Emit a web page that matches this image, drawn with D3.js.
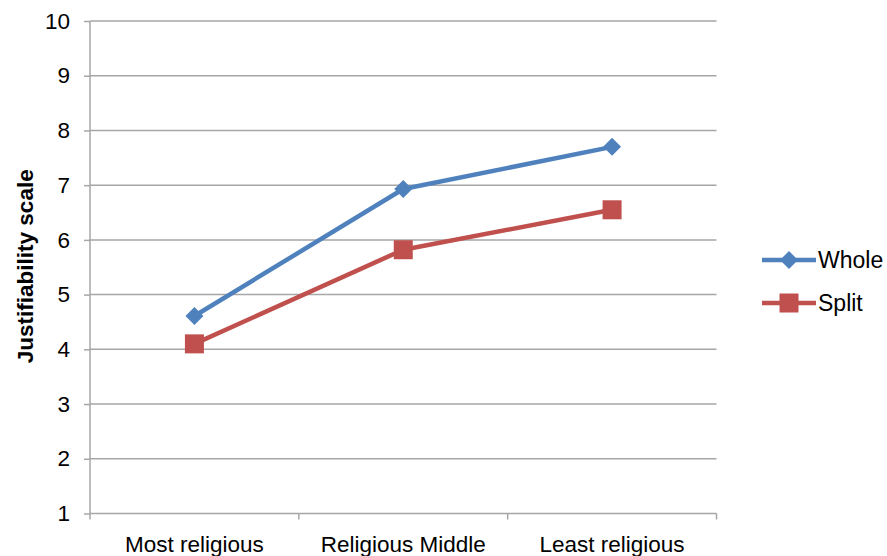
<!DOCTYPE html>
<html>
<head>
<meta charset="utf-8">
<script src="https://cdn.jsdelivr.net/npm/d3@7"></script>
<style>
  body { margin: 0; background: #fff; }
  svg { display: block; font-family: "Liberation Sans", Arial, sans-serif; }
</style>
</head>
<body>
<svg id="chart" width="887" height="556"></svg>
<script>
// Religiosity groups along the x axis
const categories = ["Most religious", "Religious Middle", "Least religious"];
// Mean justifiability score per group
const wholeValues = [4.61, 6.93, 7.70];
const splitValues = [4.10, 5.82, 6.55];
const seriesNames = ["Whole", "Split"];
const yTicks = [1, 2, 3, 4, 5, 6, 7, 8, 9, 10];

const series = [
  { name: seriesNames[0], values: wholeValues, color: "#4F81BD", marker: "diamond" },
  { name: seriesNames[1], values: splitValues, color: "#C0504D", marker: "square" }
];

const svg = d3.select("#chart");
const plot = { left: 90, right: 716.5, top: 21, bottom: 513.5 };
const fontSize = 22.5;

const x = d3.scaleBand().domain(categories).range([plot.left, plot.right]);
const y = d3.scaleLinear().domain([1, 10]).range([plot.bottom, plot.top]);
const gridColor = "#A6A6A6";

// Horizontal gridlines
svg.append("g")
  .selectAll("line")
  .data(yTicks.slice(1))
  .join("line")
  .attr("x1", plot.left).attr("x2", plot.right)
  .attr("y1", d => y(d)).attr("y2", d => y(d))
  .attr("stroke", gridColor).attr("stroke-width", 1.5);

// Y axis
const yAxis = svg.append("g")
  .attr("transform", `translate(${plot.left},0)`)
  .call(d3.axisLeft(y).tickValues(yTicks).tickSize(6).tickPadding(14).tickFormat(d3.format("d")));
yAxis.select(".domain").attr("stroke", gridColor).attr("stroke-width", 1.5)
  .attr("d", `M0,${plot.bottom}V${plot.top}`);
yAxis.selectAll(".tick line").attr("stroke", gridColor).attr("stroke-width", 1.5);
yAxis.selectAll(".tick text").attr("font-size", fontSize).attr("fill", "#000")
  .attr("font-family", "Liberation Sans, Arial, sans-serif");

// X axis with boundary ticks between categories
const xAxis = svg.append("g").attr("transform", `translate(0,${plot.bottom})`);
xAxis.append("line").attr("x1", plot.left).attr("x2", plot.right)
  .attr("stroke", gridColor).attr("stroke-width", 1.5);
const bounds = categories.map(c => x(c)).concat([plot.right]);
xAxis.selectAll("line.tk").data(bounds).join("line").attr("class", "tk")
  .attr("x1", d => d).attr("x2", d => d).attr("y1", 0).attr("y2", 6)
  .attr("stroke", gridColor).attr("stroke-width", 1.5);
xAxis.selectAll("text").data(categories).join("text")
  .attr("x", d => x(d) + x.bandwidth() / 2).attr("y", 38)
  .attr("text-anchor", "middle").attr("font-size", fontSize).attr("fill", "#000")
  .text(d => d);

// Y axis title
svg.append("text")
  .attr("transform", `translate(33,${(plot.top + plot.bottom) / 2 - 1}) rotate(-90)`)
  .attr("text-anchor", "middle").attr("font-size", fontSize).attr("font-weight", "bold")
  .text("Justifiability scale");

const line = d3.line().x((d, i) => x(categories[i]) + x.bandwidth() / 2).y(d => y(d));

function drawMarker(g, type, cx, cy, color) {
  if (type === "diamond") {
    const r = 9;
    g.append("path").attr("d", `M${cx},${cy - r}L${cx + r},${cy}L${cx},${cy + r}L${cx - r},${cy}Z`)
      .attr("fill", color);
  } else {
    const s = 19;
    g.append("rect").attr("x", cx - s / 2).attr("y", cy - s / 2).attr("width", s).attr("height", s)
      .attr("fill", color);
  }
}

series.forEach(s => {
  const g = svg.append("g");
  g.append("path").datum(s.values).attr("d", line)
    .attr("fill", "none").attr("stroke", s.color).attr("stroke-width", 4.5)
    .attr("stroke-linejoin", "round");
  s.values.forEach((v, i) => drawMarker(g, s.marker, x(categories[i]) + x.bandwidth() / 2, y(v), s.color));
});

// Legend
const legend = svg.append("g");
series.forEach((s, i) => {
  const ly = 260 + i * 43;
  legend.append("line").attr("x1", 762).attr("x2", 816).attr("y1", ly).attr("y2", ly)
    .attr("stroke", s.color).attr("stroke-width", 4.5);
  drawMarker(legend, s.marker, 789, ly, s.color);
  legend.append("text").attr("x", 818).attr("y", ly + 8).attr("font-size", 23).text(s.name);
});
</script>
</body>
</html>
